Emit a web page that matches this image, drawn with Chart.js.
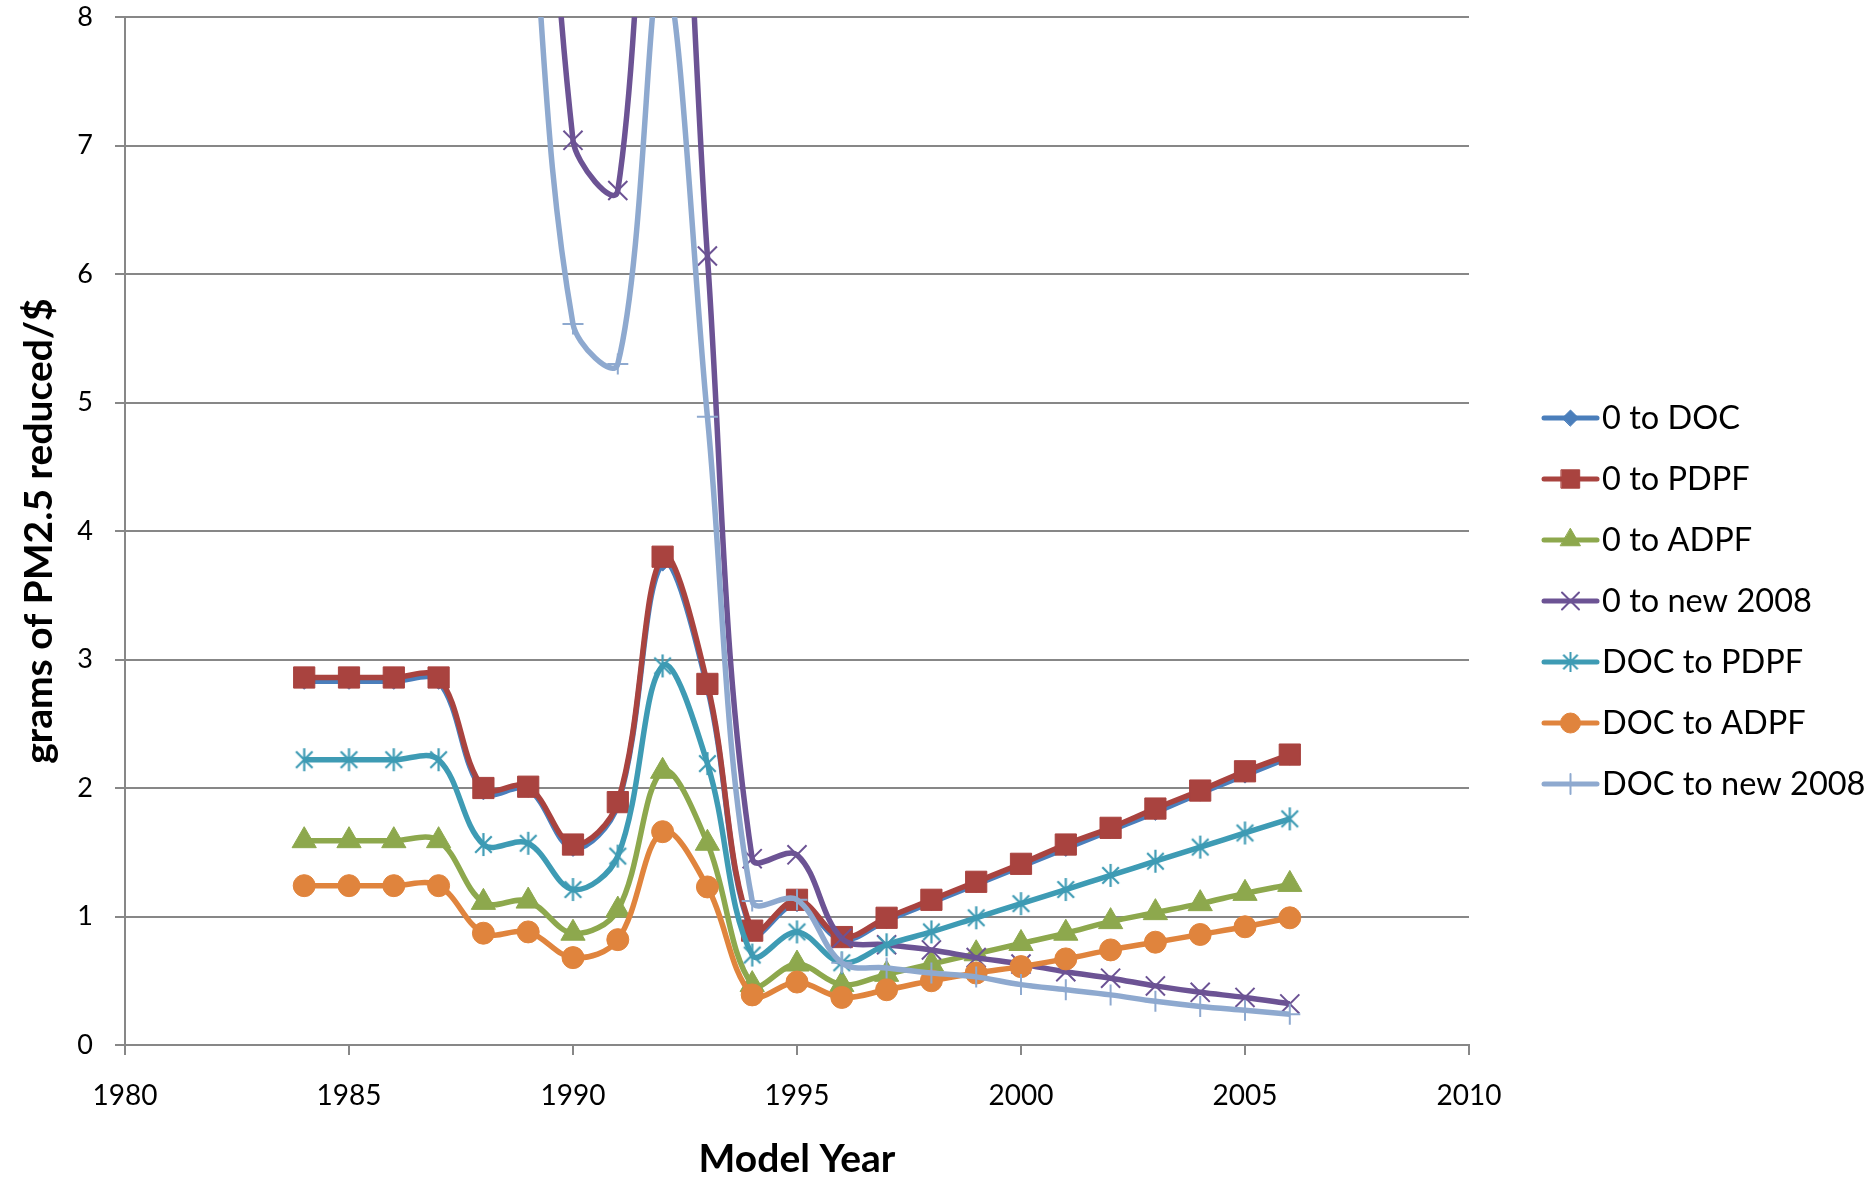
<!DOCTYPE html>
<html>
<head>
<meta charset="utf-8">
<script src="https://cdn.jsdelivr.net/npm/chart.js@4.4.1/dist/chart.umd.min.js"></script>
<style>
html,body{margin:0;padding:0;background:#ffffff;}
#wrap{width:1872px;height:1179px;position:relative;}
</style>
</head>
<body>
<div id="wrap"><canvas id="c" width="1872" height="1179"></canvas></div>
<script>
// ---- data ----
const years = [1984,1985,1986,1987,1988,1989,1990,1991,1992,1993,1994,1995,1996,1997,1998,1999,2000,2001,2002,2003,2004,2005,2006];
const seriesNames = ["0 to DOC","0 to PDPF","0 to ADPF","0 to new 2008","DOC to PDPF","DOC to ADPF","DOC to new 2008"];
const zeroToDOC   = [2.83,2.83,2.83,2.83,1.97,1.99,1.53,1.87,3.75,2.78,0.87,1.10,0.82,0.97,1.11,1.25,1.39,1.53,1.67,1.81,1.96,2.10,2.24];
const zeroToPDPF  = [2.86,2.86,2.86,2.86,2.00,2.01,1.56,1.89,3.80,2.81,0.89,1.13,0.84,0.99,1.13,1.27,1.41,1.56,1.69,1.84,1.98,2.13,2.26];
const zeroToADPF  = [1.59,1.59,1.59,1.59,1.11,1.12,0.87,1.05,2.13,1.57,0.47,0.63,0.47,0.55,0.63,0.71,0.79,0.87,0.96,1.03,1.10,1.18,1.25];
const zeroToNew   = [null,null,null,null,null,13.0,7.04,6.65,11.6,6.14,1.45,1.48,0.83,0.78,0.74,0.68,0.63,0.57,0.52,0.46,0.41,0.37,0.32];
const docToPDPF   = [2.22,2.22,2.22,2.22,1.56,1.57,1.21,1.47,2.95,2.19,0.70,0.88,0.64,0.78,0.88,0.99,1.10,1.21,1.32,1.43,1.54,1.65,1.76];
const docToADPF   = [1.24,1.24,1.24,1.24,0.87,0.88,0.68,0.82,1.66,1.23,0.39,0.49,0.37,0.43,0.50,0.56,0.61,0.67,0.74,0.80,0.86,0.92,0.99];
const docToNew    = [null,null,null,null,null,9.3,5.61,5.30,8.4,4.89,1.12,1.13,0.64,0.60,0.56,0.53,0.47,0.43,0.39,0.34,0.30,0.27,0.24];
const xTickValues = [1980,1985,1990,1995,2000,2005,2010];
const yTickValues = [0,1,2,3,4,5,6,7,8];
const xTitle = "Model Year";
const yTitle = "grams of PM2.5 reduced/$";

// ---- styles ----
const colors = ["#4A7EBB","#A9433F","#8DA84D","#6C5394","#3E9BB4","#E0843D","#8EA9CF"];

function makeAsterisk(color, size, lw){
  const c = document.createElement('canvas');
  c.width = size; c.height = size;
  const g = c.getContext('2d');
  g.strokeStyle = color; g.lineWidth = lw; g.lineCap = 'butt';
  const h = size/2, r = size/2 - 1, d = r*0.72;
  g.beginPath();
  g.moveTo(h, h-r); g.lineTo(h, h+r);
  g.moveTo(h-d, h-d); g.lineTo(h+d, h+d);
  g.moveTo(h-d, h+d); g.lineTo(h+d, h-d);
  g.stroke();
  return c;
}
const asteriskPlot = makeAsterisk(colors[4], 25, 2.2);
const asteriskLegend = makeAsterisk(colors[4], 22, 2);

const pointStyles = ["rectRot","rect","triangle","crossRot","IMG","circle","cross"];
const pointRadii  = [8,15,14,13.5,12,11,10.5];
const legendRadii = [8,13,11.5,12,11,10,10];
const pointBorderW= [1,1,1,2,2,1,2];

const seriesData = [zeroToDOC, zeroToPDPF, zeroToADPF, zeroToNew, docToPDPF, docToADPF, docToNew];

function buildDatasets(){
  const n = seriesData.length;
  return seriesData.map((arr, i) => ({
    label: seriesNames[i],
    data: years.map((y, k) => ({x: y, y: arr[k]})),
    order: n - 1 - i,
    borderColor: colors[i],
    backgroundColor: colors[i],
    pointBackgroundColor: colors[i],
    pointBorderColor: colors[i],
    pointBorderWidth: pointBorderW[i],
    pointStyle: pointStyles[i] === "IMG" ? asteriskPlot : pointStyles[i],
    legendStyle: pointStyles[i] === "IMG" ? asteriskLegend : pointStyles[i],
    legendRadius: legendRadii[i],
    pointRadius: pointRadii[i],
    pointHoverRadius: pointRadii[i],
    borderWidth: 5.5,
    tension: 0.36,
    fill: false,
    spanGaps: false
  }));
}

const legendPlugin = {
  id: 'sideLegend',
  afterDraw(chart){
    const ctx = chart.ctx;
    const x0 = 1544, x1 = 1597, tx = 1602, yStart = 418, dy = 61;
    chart.data.datasets.forEach((ds, i) => {
      const y = yStart + i*dy;
      ctx.save();
      ctx.strokeStyle = ds.borderColor;
      ctx.lineWidth = 5;
      ctx.lineCap = 'round';
      ctx.beginPath(); ctx.moveTo(x0, y); ctx.lineTo(x1, y); ctx.stroke();
      ctx.fillStyle = ds.pointBackgroundColor;
      ctx.strokeStyle = ds.pointBorderColor;
      ctx.lineWidth = ds.pointBorderWidth;
      Chart.helpers.drawPoint(ctx, {pointStyle: ds.legendStyle, radius: ds.legendRadius, borderWidth: ds.pointBorderWidth, rotation: 0}, (x0+x1)/2, y);
      ctx.fillStyle = '#000000';
      ctx.font = '32.5px Lato';
      ctx.textBaseline = 'middle';
      ctx.textAlign = 'left';
      ctx.fillText(ds.label, tx, y + 1);
      ctx.restore();
    });
  }
};

function draw(){
  new Chart(document.getElementById('c'), {
    type: 'line',
    data: { datasets: buildDatasets() },
    plugins: [legendPlugin],
    options: {
      responsive: false,
      animation: false,
      devicePixelRatio: 1,
      layout: { autoPadding: false, padding: { left: 0, top: 17, right: 403, bottom: 0 } },
      elements: { line: { capBezierPoints: false } },
      plugins: { legend: { display: false }, tooltip: { enabled: false }, title: { display: false } },
      scales: {
        x: {
          type: 'linear',
          min: xTickValues[0], max: xTickValues[xTickValues.length-1],
          afterBuildTicks: (s) => { s.ticks = xTickValues.map(v => ({value: v})); },
          afterFit: (s) => { s.height = 134; },
          grid: { display: true, drawOnChartArea: false, drawTicks: true, tickLength: 10, color: '#878787', lineWidth: 2 },
          border: { display: true, color: '#878787', width: 2 },
          ticks: { color: '#000000', font: { family: 'Lato', size: 28 }, padding: 24, maxRotation: 0, callback: (v) => String(v) },
          title: { display: true, text: xTitle, color: '#000000', font: { family: 'Lato', size: 39, weight: 'bold', lineHeight: 1.0 }, padding: { top: 0, bottom: 0 } }
        },
        y: {
          type: 'linear',
          min: yTickValues[0], max: yTickValues[yTickValues.length-1],
          afterBuildTicks: (s) => { s.ticks = yTickValues.map(v => ({value: v})); },
          afterFit: (s) => { s.width = 125; s.paddingTop = 0; s.paddingBottom = 0; },
          grid: { display: true, drawOnChartArea: true, drawTicks: true, tickLength: 10, color: '#878787', lineWidth: 2 },
          border: { display: true, color: '#878787', width: 2 },
          ticks: { color: '#000000', font: { family: 'Lato', size: 27 }, padding: 22, callback: (v) => String(v) },
          title: { display: true, text: yTitle, color: '#000000', font: { family: 'Lato', size: 39, weight: 'bold', lineHeight: 1.0 }, padding: { top: 20, bottom: 0 } }
        }
      }
    }
  });
}

Promise.all([
  document.fonts.load('28px Lato'),
  document.fonts.load('bold 39px Lato')
]).then(draw, draw);
</script>
</body>
</html>
